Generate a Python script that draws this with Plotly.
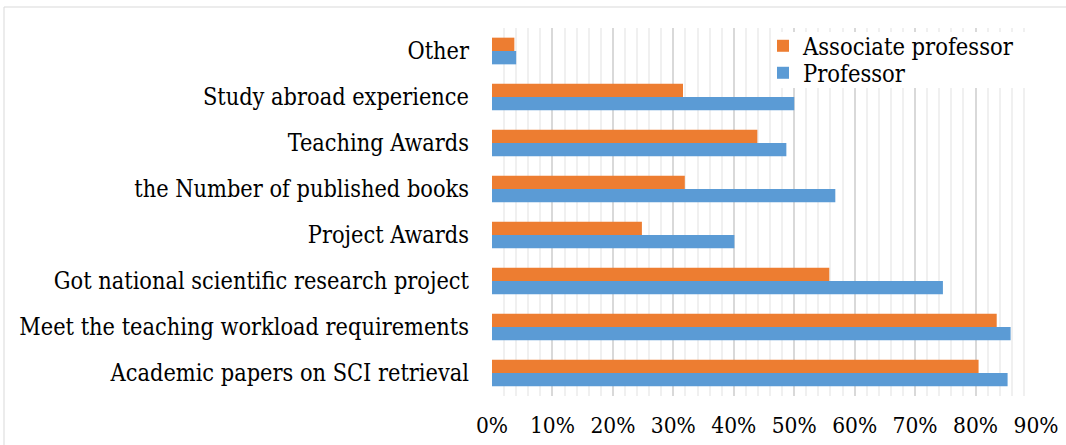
import plotly.graph_objects as go

categories = [
    "Academic papers on SCI retrieval",
    "Meet the teaching workload requirements",
    "Got national scientific research project",
    "Project Awards",
    "the Number of published books",
    "Teaching Awards",
    "Study abroad experience",
    "Other",
]
professor = [0.853, 0.858, 0.746, 0.401, 0.568, 0.487, 0.500, 0.040]
associate_professor = [0.805, 0.835, 0.558, 0.248, 0.319, 0.439, 0.316, 0.037]
x_ticks = [0, 0.1, 0.2, 0.3, 0.4, 0.5, 0.6, 0.7, 0.8, 0.9]

FONT = "DejaVu Serif Condensed, DejaVu Serif"

W, H = 1066, 445
L, R, T, B = 492, 30, 28, 49
pw, ph = W - L - R, H - T - B

def px_x(p):
    return (p - L) / pw

def px_y(p):
    return (H - B - p) / ph

fig = go.Figure()
fig.add_trace(go.Bar(
    y=categories, x=professor, orientation="h", name="Professor",
    marker=dict(color="#5B9BD5", line=dict(width=0)),
    legend="legend2",
))
fig.add_trace(go.Bar(
    y=categories, x=associate_professor, orientation="h", name="Associate professor",
    marker=dict(color="#ED7D31", line=dict(width=0)),
    legend="legend",
))

leg_common = dict(
    xanchor="left", yanchor="middle", bgcolor="rgba(0,0,0,0)",
    font=dict(family=FONT, size=23.5, color="black"),
    itemwidth=30,
)

fig.update_layout(
    width=W, height=H,
    margin=dict(l=L, r=R, t=T, b=B, autoexpand=False),
    paper_bgcolor="white", plot_bgcolor="white",
    barmode="group", bargap=0.42, bargroupgap=0,
    font=dict(family=FONT, color="black", size=23),
    showlegend=True,
    legend=dict(x=px_x(763), y=px_y(46), **leg_common),
    legend2=dict(x=px_x(763), y=px_y(73), **leg_common),
    xaxis=dict(
        range=[0, 0.9], tickvals=x_ticks, tickformat=".0%",
        showgrid=True, gridcolor="#d9d9d9", gridwidth=2,
        minor=dict(dtick=0.02, showgrid=True, gridcolor="#f0f0f0", gridwidth=2),
        zeroline=False, showline=False, ticks="",
        tickfont=dict(family=FONT, size=22.5, color="black"),
        ticklabelstandoff=13, fixedrange=True, automargin=False,
    ),
    yaxis=dict(
        categoryorder="array", categoryarray=categories,
        showgrid=False, zeroline=False, showline=False, ticks="",
        tickfont=dict(family=FONT, size=23.3, color="black"),
        ticklabelstandoff=22, fixedrange=True, automargin=False,
    ),
    shapes=[
        dict(
            type="rect", xref="paper", yref="paper",
            x0=px_x(4), x1=px_x(1075), y0=px_y(460), y1=px_y(7),
            line=dict(color="#d9d9d9", width=1), fillcolor="rgba(0,0,0,0)",
            layer="below",
        ),
        dict(
            type="rect", xref="paper", yref="paper",
            x0=px_x(780), x1=px_x(1042), y0=px_y(88), y1=px_y(32),
            line=dict(width=0), fillcolor="white", layer="above",
        ),
    ],
)

fig.write_html(
    "out.html",
    config={"displayModeBar": False},
    post_script="document.body.style.margin='0';document.body.style.padding='0';",
)
